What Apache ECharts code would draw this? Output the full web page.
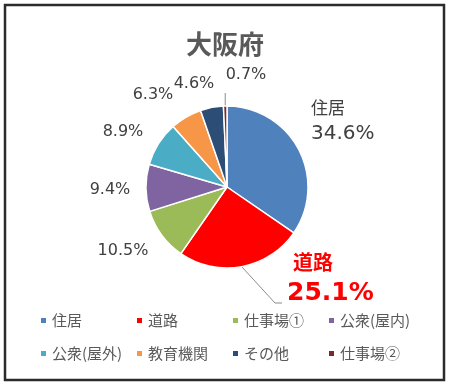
<!DOCTYPE html>
<html><head><meta charset="utf-8">
<script src="https://cdn.jsdelivr.net/npm/echarts@6/dist/echarts.min.js"></script>
<style>html,body{margin:0;padding:0;background:#fff}#c{width:450px;height:385px}</style>
</head><body><div id="c"></div>
<script>
const title = '大阪府';
const categories = ['住居','道路','仕事場①','公衆(屋内)','公衆(屋外)','教育機関','その他','仕事場②'];
const values = [34.6, 25.1, 10.5, 9.4, 8.9, 6.3, 4.6, 0.7];
const colors = ['#4F81BD','#FF0000','#9BBB59','#8064A2','#4BACC6','#F79646','#2C4D75','#772C2A'];

// label anchor positions (layout only)
const labelPos = [
  {x:311, y:121, align:'left'},
  {x:287, y:279, align:'left'},
  {x:123, y:251, align:'center'},
  {x:110, y:190, align:'center'},
  {x:123, y:132, align:'center'},
  {x:153, y:95, align:'center'},
  {x:194, y:84, align:'center'},
  {x:246, y:75, align:'center'}
];

const chart = echarts.init(document.getElementById('c'), null, {renderer:'canvas'});
const richMain = {
  n:{fontFamily:'Noto Sans CJK JP', fontSize:17, color:'#404040', lineHeight:26},
  v:{fontFamily:'DejaVu Sans', fontSize:20, color:'#404040', lineHeight:26}
};
const richRed = {
  n:{fontFamily:'Noto Sans CJK JP', fontSize:20, fontWeight:'bold', color:'#FF0000', lineHeight:28, padding:[0,0,0,6]},
  v:{fontFamily:'DejaVu Sans', fontSize:25, fontWeight:'bold', color:'#FF0000', lineHeight:34}
};
const data = categories.map((n, i) => {
  const d = {name:n, value:values[i], itemStyle:{color:colors[i]}};
  if (i === 0) d.label = {formatter: '{n|' + n + '}\n{v|' + values[i].toFixed(1) + '%}', rich:richMain};
  if (i === 1) { d.label = {formatter: '{n|' + n + '}\n{v|' + values[i].toFixed(1) + '%}', rich:richRed}; d.labelLine = {show:true}; }
  if (i === 7) d.labelLine = {show:true};
  return d;
});

chart.setOption({
  animation:false,
  title:{text:title, left:'center', top:26, textStyle:{fontFamily:'Noto Sans CJK JP', fontSize:26, fontWeight:'bold', color:'#595959'}},
  legend:{
    data:categories, left:39, top:310, width:390, orient:'horizontal', padding:0,
    itemWidth:7, itemHeight:7, itemGap:12, icon:'rect',
    textStyle:{fontFamily:'Noto Sans CJK JP', fontSize:15, color:'#595959', width:71, lineHeight:21}
  },
  graphic:[{type:'rect', shape:{x:5, y:5, width:439, height:375}, style:{fill:'none', stroke:'#2b2b2b', lineWidth:2.5}, silent:true}],
  series:[{
    type:'pie', center:[227,187], radius:81, startAngle:90, clockwise:true,
    avoidLabelOverlap:false,
    itemStyle:{borderColor:'#fff', borderWidth:1.5},
    label:{show:true, position:'outside', formatter: p => p.value.toFixed(1) + '%',
      fontFamily:'DejaVu Sans', fontSize:16, color:'#404040'
    },
    labelLine:{show:false, lineStyle:{color:'#8c8c8c', width:1}, length:10, length2:5},
    labelLayout: function(p){
      const i = p.dataIndex;
      const pos = labelPos[i];
      const r = {x:pos.x, y:pos.y, align:pos.align, verticalAlign:'middle'};
      const s = p.labelLinePoints ? p.labelLinePoints[0] : null;
      if (i === 1 && s) r.labelLinePoints = [[s[0], s[1]], [275, 303], [282, 303]];
      if (i === 7 && s) r.labelLinePoints = [[s[0], s[1]], [s[0], 93], [s[0], 93]];
      return r;
    },
    data:data
  }]
});
</script></body></html>
